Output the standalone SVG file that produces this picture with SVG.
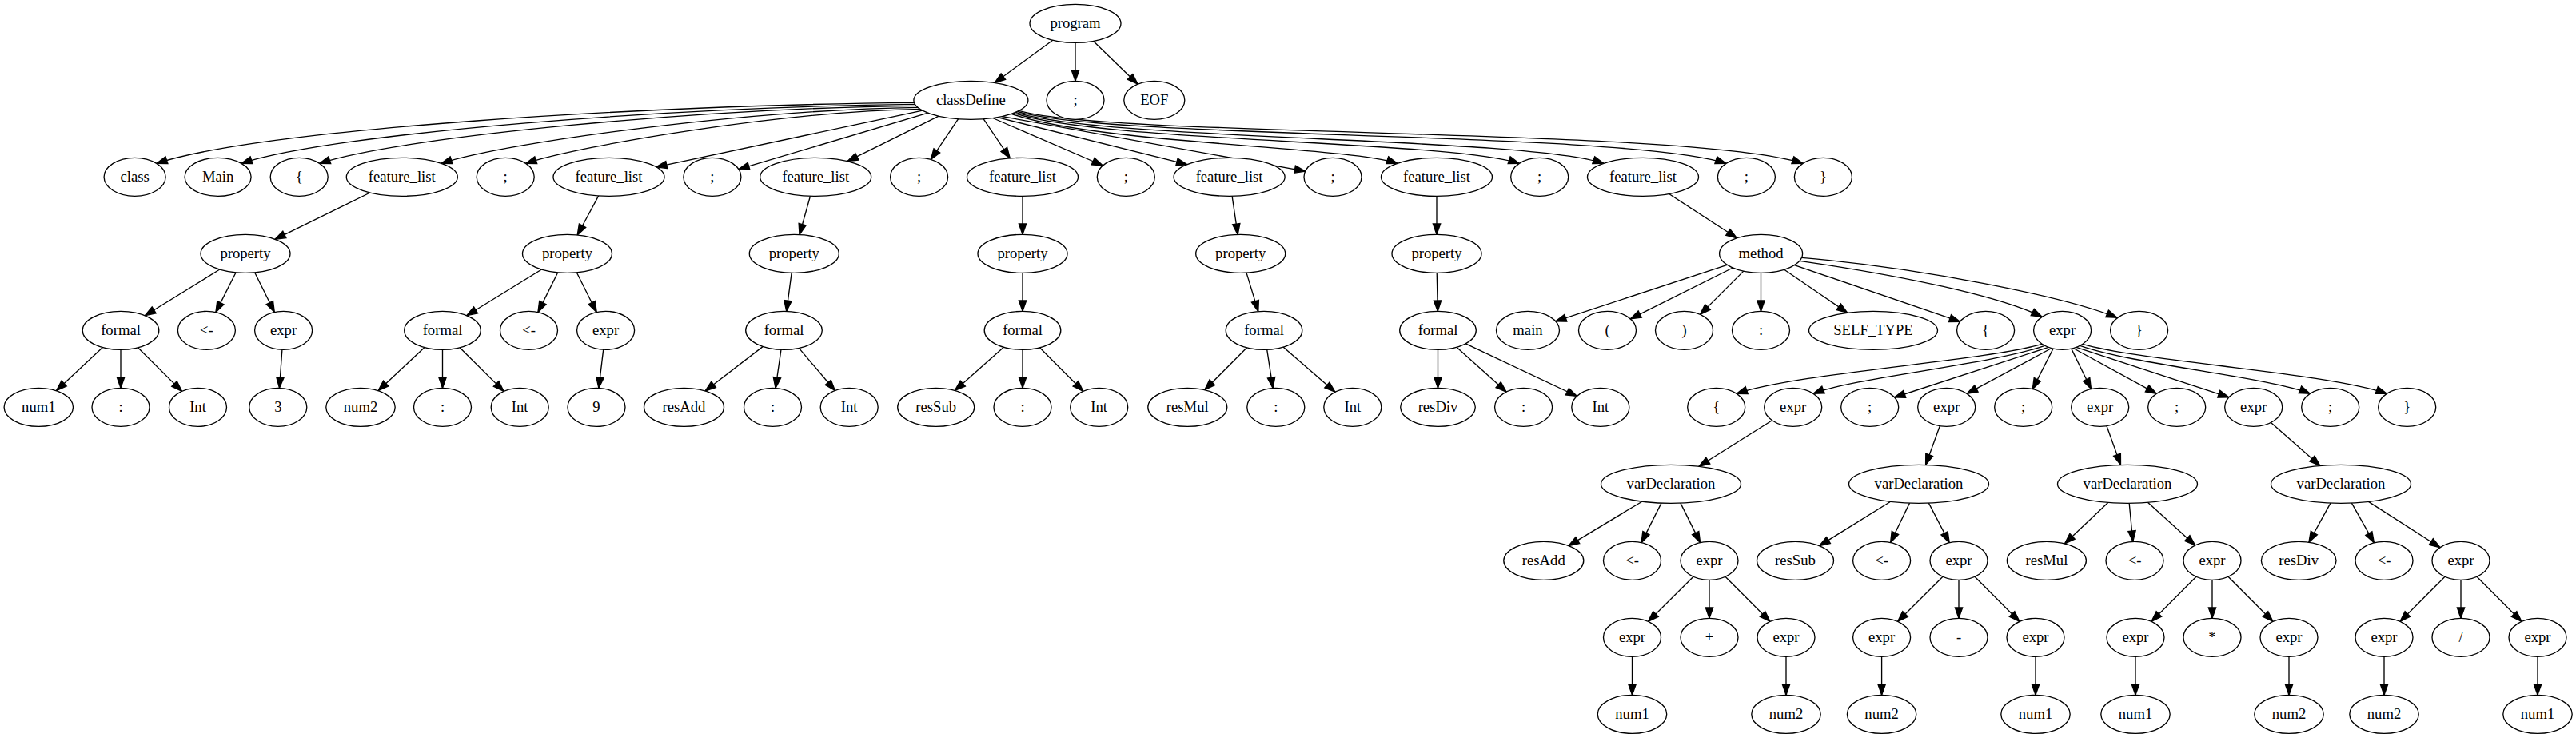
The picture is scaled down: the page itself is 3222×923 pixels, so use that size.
<svg xmlns="http://www.w3.org/2000/svg" width="3222" height="923" viewBox="0 0 3222 923">
<style>
.node ellipse{fill:#fff;stroke:#000;stroke-width:1.33}
.node text{font-family:"Liberation Serif","Times New Roman",serif;font-size:18.67px;text-anchor:middle;fill:#000}
#edges path{fill:none;stroke:#000;stroke-width:1.33;marker-end:url(#arr)}
</style>
<defs>
<marker id="arr" markerUnits="userSpaceOnUse" markerWidth="16" markerHeight="12" refX="13.33" refY="4.67" orient="auto" overflow="visible">
<path d="M0,0 L13.33,4.67 L0,9.33 Z" fill="#000" stroke="#000" stroke-width="1.33"/>
</marker>
</defs>
<rect width="3222" height="923" fill="#fff"/>
<g id="edges">
<path d="M1316.7,50.2 L1244.1,103.5"/>
<path d="M1345,53.3 L1345,101.3"/>
<path d="M1367.7,51.4 L1423.1,105.2"/>
<path d="M1143.5,128.3 C811.8,131.3 331,160.4 195.8,204.3"/>
<path d="M1144.5,130.3 C849.6,133.3 422.1,165.3 301.9,204.3"/>
<path d="M1146,132.3 C884.8,135.3 506.1,169.7 399.6,204.3"/>
<path d="M1148.1,134.3 C939.4,137.3 637,176.7 551.9,204.3"/>
<path d="M1150.9,136.3 C978.2,139.3 728,181.4 657.6,204.3"/>
<path d="M1153.9,138.2 L820.7,208.8"/>
<path d="M1160.8,141.2 L923.8,211.6"/>
<path d="M1174.2,145.2 L1060,201.7"/>
<path d="M1198.6,148.7 L1164.4,199.4"/>
<path d="M1230.1,148.7 L1263.3,198"/>
<path d="M1241.6,147.5 L1379.4,207"/>
<path d="M1247.3,146.6 L1484.9,205.7"/>
<path d="M1253,145.5 L1632.7,214.1"/>
<path d="M1264.9,142.3 C1374.9,180 1680.8,182.5 1747.9,204.3"/>
<path d="M1267.7,141.3 C1377.7,178 1811.9,175.6 1900.3,204.3"/>
<path d="M1270.2,140.3 C1380.2,176 1902.7,170.8 2005.9,204.3"/>
<path d="M1272.5,139.3 C1382.5,174 2034.2,163.8 2159,204.3"/>
<path d="M1274.5,138.3 C1384.5,172 2116.6,159.4 2255,204.3"/>
<path d="M462.8,241 L343.9,299.3"/>
<path d="M748.7,244.9 L722.2,294"/>
<path d="M1013.5,245.2 L1000,293.5"/>
<path d="M1279,245.3 L1279,293.3"/>
<path d="M1541.1,245.2 L1548.2,293.4"/>
<path d="M1797,245.3 L1797,293.3"/>
<path d="M2087.6,242.5 L2172.5,297.8"/>
<path d="M274.9,337 L181.3,394.8"/>
<path d="M295.1,340.8 L269.9,390.6"/>
<path d="M318.6,340.8 L343.3,390.5"/>
<path d="M677.5,337 L583.7,394.8"/>
<path d="M697.8,340.8 L672.9,390.6"/>
<path d="M721.3,340.8 L746.2,390.5"/>
<path d="M990.1,341.3 L983.7,389.4"/>
<path d="M1279,341.3 L1279,389.3"/>
<path d="M1559,341.1 L1573.8,389.6"/>
<path d="M1797.2,341.3 L1798.3,389.3"/>
<path d="M2160.3,331.3 L1945.7,401.9"/>
<path d="M2167.3,335 L2039.3,398.9"/>
<path d="M2180.8,339.1 L2126.5,393.4"/>
<path d="M2202.5,341.3 L2202.5,389.3"/>
<path d="M2231.7,337.2 L2310.8,391.3"/>
<path d="M2244.4,331.6 L2451.6,402.4"/>
<path d="M2250.8,326.3 C2380,345 2500,370 2554.2,396.3"/>
<path d="M2253.5,322.3 C2400,335 2580,370 2648,397.3"/>
<path d="M128.4,434.5 L70.4,488.7"/>
<path d="M151,437.3 L151,485.3"/>
<path d="M172.5,434.8 L227.5,489.4"/>
<path d="M352.9,437.3 L349.5,485.3"/>
<path d="M531,434.5 L473,488.7"/>
<path d="M553.5,437.3 L553.5,485.3"/>
<path d="M575.1,434.8 L630.1,489.4"/>
<path d="M754.7,437.2 L748.9,485.4"/>
<path d="M954.3,433.4 L882,489"/>
<path d="M977,437.2 L970,485.4"/>
<path d="M999.3,435.4 L1044.4,488.5"/>
<path d="M1255.4,434.2 L1194.3,488.4"/>
<path d="M1279,437.3 L1279,485.3"/>
<path d="M1300.4,434.8 L1354.8,489.3"/>
<path d="M1559.6,434.8 L1506.8,487.7"/>
<path d="M1584.7,437.2 L1592.1,485.4"/>
<path d="M1605,434.1 L1669.9,490.3"/>
<path d="M1798.5,437.3 L1798.5,485.3"/>
<path d="M1821.9,434.3 L1884.1,490.1"/>
<path d="M1833.3,429.8 L1972.4,495.5"/>
<path d="M2554.2,430.3 C2480,452 2250,466 2172.1,492.3"/>
<path d="M2557.6,432.3 C2490,456 2320,472 2268.1,492.3"/>
<path d="M2562.2,434.3 L2369.6,497"/>
<path d="M2566,435.5 L2460.2,492.4"/>
<path d="M2568,436.1 L2542.3,486.6"/>
<path d="M2590.8,436.1 L2615.5,486.5"/>
<path d="M2593.2,435.5 L2697.3,492.3"/>
<path d="M2597,434.3 L2787.9,496.9"/>
<path d="M2601.6,432.3 C2669,456 2839,472 2889.3,492.3"/>
<path d="M2605,430.3 C2679,452 2909,466 2985.3,492.3"/>
<path d="M2216.5,525.8 L2125,583.3"/>
<path d="M2426.3,532.7 L2408.6,581.4"/>
<path d="M2635,532.7 L2652.5,581.4"/>
<path d="M2840.5,528.4 L2901.9,582.4"/>
<path d="M2053.8,627.2 L1961.9,682.6"/>
<path d="M2078,629.1 L2053,678.6"/>
<path d="M2101.9,629.1 L2126.6,678.6"/>
<path d="M2364.7,627.3 L2275.6,682.6"/>
<path d="M2388.5,629.1 L2364.6,678.5"/>
<path d="M2412.4,629.1 L2438.2,678.7"/>
<path d="M2636.7,628.4 L2582.4,680"/>
<path d="M2663.2,629.3 L2667.8,677.3"/>
<path d="M2686.4,628.3 L2745.7,682"/>
<path d="M2915,629.1 L2887.9,678.2"/>
<path d="M2941.4,629.1 L2969.4,678.8"/>
<path d="M2962.5,627.4 L3052,684.7"/>
<path d="M2118,721.3 L2061.5,777.4"/>
<path d="M2138,725.3 L2138,773.3"/>
<path d="M2158,721.3 L2214,777.4"/>
<path d="M2430,721.3 L2373.6,777.4"/>
<path d="M2450,725.3 L2450,773.3"/>
<path d="M2470,721.3 L2526,777.4"/>
<path d="M2747,721.3 L2691,777.4"/>
<path d="M2767,725.3 L2767,773.3"/>
<path d="M2787,721.3 L2843,777.4"/>
<path d="M3058,721.3 L3002,777.4"/>
<path d="M3078,725.3 L3078,773.3"/>
<path d="M3098,721.3 L3154,777.4"/>
<path d="M2041.5,821.3 L2041.5,869.3"/>
<path d="M2234,821.3 L2234,869.3"/>
<path d="M2353.6,821.3 L2353.6,869.3"/>
<path d="M2546,821.3 L2546,869.3"/>
<path d="M2671,821.3 L2671,869.3"/>
<path d="M2863,821.3 L2863,869.3"/>
<path d="M2982,821.3 L2982,869.3"/>
<path d="M3174,821.3 L3174,869.3"/>
</g>
<g id="n_program" class="node"><ellipse cx="1345" cy="29.33" rx="57" ry="24"/><text x="1345" y="35.3">program</text></g>
<g id="n_classDefine" class="node"><ellipse cx="1214.4" cy="125.33" rx="71.5" ry="24"/><text x="1214.4" y="131.3">classDefine</text></g>
<g id="n_semi0" class="node"><ellipse cx="1345" cy="125.33" rx="36" ry="24"/><text x="1345" y="131.3">;</text></g>
<g id="n_EOF" class="node"><ellipse cx="1443.8" cy="125.33" rx="38" ry="24"/><text x="1443.8" y="131.3">EOF</text></g>
<g id="n_class" class="node"><ellipse cx="168.6" cy="221.33" rx="38.5" ry="24"/><text x="168.6" y="227.3">class</text></g>
<g id="n_Main" class="node"><ellipse cx="272.6" cy="221.33" rx="41.5" ry="24"/><text x="272.6" y="227.3">Main</text></g>
<g id="n_lbrace0" class="node"><ellipse cx="374.2" cy="221.33" rx="36" ry="24"/><text x="374.2" y="227.3">{</text></g>
<g id="n_fl1" class="node"><ellipse cx="502.8" cy="221.33" rx="69.5" ry="24"/><text x="502.8" y="227.3">feature_list</text></g>
<g id="n_semi1" class="node"><ellipse cx="632.2" cy="221.33" rx="36" ry="24"/><text x="632.2" y="227.3">;</text></g>
<g id="n_fl2" class="node"><ellipse cx="761.5" cy="221.33" rx="69.5" ry="24"/><text x="761.5" y="227.3">feature_list</text></g>
<g id="n_semi2" class="node"><ellipse cx="890.9" cy="221.33" rx="36" ry="24"/><text x="890.9" y="227.3">;</text></g>
<g id="n_fl3" class="node"><ellipse cx="1020.2" cy="221.33" rx="69.5" ry="24"/><text x="1020.2" y="227.3">feature_list</text></g>
<g id="n_semi3" class="node"><ellipse cx="1149.6" cy="221.33" rx="36" ry="24"/><text x="1149.6" y="227.3">;</text></g>
<g id="n_fl4" class="node"><ellipse cx="1279" cy="221.33" rx="69.5" ry="24"/><text x="1279" y="227.3">feature_list</text></g>
<g id="n_semi4" class="node"><ellipse cx="1408.3" cy="221.33" rx="36" ry="24"/><text x="1408.3" y="227.3">;</text></g>
<g id="n_fl5" class="node"><ellipse cx="1537.6" cy="221.33" rx="69.5" ry="24"/><text x="1537.6" y="227.3">feature_list</text></g>
<g id="n_semi5" class="node"><ellipse cx="1667" cy="221.33" rx="36" ry="24"/><text x="1667" y="227.3">;</text></g>
<g id="n_fl6" class="node"><ellipse cx="1797" cy="221.33" rx="69.5" ry="24"/><text x="1797" y="227.3">feature_list</text></g>
<g id="n_semi6" class="node"><ellipse cx="1925.7" cy="221.33" rx="36" ry="24"/><text x="1925.7" y="227.3">;</text></g>
<g id="n_fl7" class="node"><ellipse cx="2055" cy="221.33" rx="69.5" ry="24"/><text x="2055" y="227.3">feature_list</text></g>
<g id="n_semi7" class="node"><ellipse cx="2184.4" cy="221.33" rx="36" ry="24"/><text x="2184.4" y="227.3">;</text></g>
<g id="n_rbrace0" class="node"><ellipse cx="2280.4" cy="221.33" rx="36" ry="24"/><text x="2280.4" y="227.3">}</text></g>
<g id="n_prop1" class="node"><ellipse cx="307" cy="317.33" rx="56" ry="24"/><text x="307" y="323.3">property</text></g>
<g id="n_prop2" class="node"><ellipse cx="709.5" cy="317.33" rx="56" ry="24"/><text x="709.5" y="323.3">property</text></g>
<g id="n_prop3" class="node"><ellipse cx="993.3" cy="317.33" rx="56" ry="24"/><text x="993.3" y="323.3">property</text></g>
<g id="n_prop4" class="node"><ellipse cx="1279" cy="317.33" rx="56" ry="24"/><text x="1279" y="323.3">property</text></g>
<g id="n_prop5" class="node"><ellipse cx="1551.7" cy="317.33" rx="56" ry="24"/><text x="1551.7" y="323.3">property</text></g>
<g id="n_prop6" class="node"><ellipse cx="1797" cy="317.33" rx="56" ry="24"/><text x="1797" y="323.3">property</text></g>
<g id="n_method" class="node"><ellipse cx="2202.6" cy="317.33" rx="52" ry="24"/><text x="2202.6" y="323.3">method</text></g>
<g id="n_formal1" class="node"><ellipse cx="151" cy="413.33" rx="47.8" ry="24"/><text x="151" y="419.3">formal</text></g>
<g id="n_assign1" class="node"><ellipse cx="258.4" cy="413.33" rx="36" ry="24"/><text x="258.4" y="419.3">&lt;-</text></g>
<g id="n_expr1" class="node"><ellipse cx="354.6" cy="413.33" rx="36" ry="24"/><text x="354.6" y="419.3">expr</text></g>
<g id="n_formal2" class="node"><ellipse cx="553.5" cy="413.33" rx="47.8" ry="24"/><text x="553.5" y="419.3">formal</text></g>
<g id="n_assign2" class="node"><ellipse cx="661.5" cy="413.33" rx="36" ry="24"/><text x="661.5" y="419.3">&lt;-</text></g>
<g id="n_expr2" class="node"><ellipse cx="757.6" cy="413.33" rx="36" ry="24"/><text x="757.6" y="419.3">expr</text></g>
<g id="n_formal3" class="node"><ellipse cx="980.5" cy="413.33" rx="47.8" ry="24"/><text x="980.5" y="419.3">formal</text></g>
<g id="n_formal4" class="node"><ellipse cx="1279" cy="413.33" rx="47.8" ry="24"/><text x="1279" y="419.3">formal</text></g>
<g id="n_formal5" class="node"><ellipse cx="1581" cy="413.33" rx="47.8" ry="24"/><text x="1581" y="419.3">formal</text></g>
<g id="n_formal6" class="node"><ellipse cx="1798.5" cy="413.33" rx="47.8" ry="24"/><text x="1798.5" y="419.3">formal</text></g>
<g id="n_main" class="node"><ellipse cx="1911" cy="413.33" rx="39.5" ry="24"/><text x="1911" y="419.3">main</text></g>
<g id="n_lparen" class="node"><ellipse cx="2010.5" cy="413.33" rx="36" ry="24"/><text x="2010.5" y="419.3">(</text></g>
<g id="n_rparen" class="node"><ellipse cx="2106.5" cy="413.33" rx="36" ry="24"/><text x="2106.5" y="419.3">)</text></g>
<g id="n_colonm" class="node"><ellipse cx="2202.5" cy="413.33" rx="36" ry="24"/><text x="2202.5" y="419.3">:</text></g>
<g id="n_selftype" class="node"><ellipse cx="2343" cy="413.33" rx="80.5" ry="24"/><text x="2343" y="419.3">SELF_TYPE</text></g>
<g id="n_lbracem" class="node"><ellipse cx="2483.6" cy="413.33" rx="36" ry="24"/><text x="2483.6" y="419.3">{</text></g>
<g id="n_exprm" class="node"><ellipse cx="2579.6" cy="413.33" rx="36" ry="24"/><text x="2579.6" y="419.3">expr</text></g>
<g id="n_rbracem" class="node"><ellipse cx="2675.6" cy="413.33" rx="36" ry="24"/><text x="2675.6" y="419.3">}</text></g>
<g id="n_num1a" class="node"><ellipse cx="48.3" cy="509.33" rx="43.2" ry="24"/><text x="48.3" y="515.3">num1</text></g>
<g id="n_colon1" class="node"><ellipse cx="151" cy="509.33" rx="36" ry="24"/><text x="151" y="515.3">:</text></g>
<g id="n_int1" class="node"><ellipse cx="247.5" cy="509.33" rx="36" ry="24"/><text x="247.5" y="515.3">Int</text></g>
<g id="n_three" class="node"><ellipse cx="347.8" cy="509.33" rx="36" ry="24"/><text x="347.8" y="515.3">3</text></g>
<g id="n_num2a" class="node"><ellipse cx="451" cy="509.33" rx="43.2" ry="24"/><text x="451" y="515.3">num2</text></g>
<g id="n_colon2" class="node"><ellipse cx="553.5" cy="509.33" rx="36" ry="24"/><text x="553.5" y="515.3">:</text></g>
<g id="n_int2" class="node"><ellipse cx="650.2" cy="509.33" rx="36" ry="24"/><text x="650.2" y="515.3">Int</text></g>
<g id="n_nine" class="node"><ellipse cx="746" cy="509.33" rx="36" ry="24"/><text x="746" y="515.3">9</text></g>
<g id="n_resAdd1" class="node"><ellipse cx="855.5" cy="509.33" rx="50" ry="24"/><text x="855.5" y="515.3">resAdd</text></g>
<g id="n_colon3" class="node"><ellipse cx="966.5" cy="509.33" rx="36" ry="24"/><text x="966.5" y="515.3">:</text></g>
<g id="n_int3" class="node"><ellipse cx="1062.2" cy="509.33" rx="36" ry="24"/><text x="1062.2" y="515.3">Int</text></g>
<g id="n_resSub1" class="node"><ellipse cx="1170.7" cy="509.33" rx="48" ry="24"/><text x="1170.7" y="515.3">resSub</text></g>
<g id="n_colon4" class="node"><ellipse cx="1279" cy="509.33" rx="36" ry="24"/><text x="1279" y="515.3">:</text></g>
<g id="n_int4" class="node"><ellipse cx="1374.7" cy="509.33" rx="36" ry="24"/><text x="1374.7" y="515.3">Int</text></g>
<g id="n_resMul1" class="node"><ellipse cx="1485.3" cy="509.33" rx="49.5" ry="24"/><text x="1485.3" y="515.3">resMul</text></g>
<g id="n_colon5" class="node"><ellipse cx="1595.8" cy="509.33" rx="36" ry="24"/><text x="1595.8" y="515.3">:</text></g>
<g id="n_int5" class="node"><ellipse cx="1691.8" cy="509.33" rx="36" ry="24"/><text x="1691.8" y="515.3">Int</text></g>
<g id="n_resDiv1" class="node"><ellipse cx="1798.5" cy="509.33" rx="46.8" ry="24"/><text x="1798.5" y="515.3">resDiv</text></g>
<g id="n_colon6" class="node"><ellipse cx="1905.6" cy="509.33" rx="36" ry="24"/><text x="1905.6" y="515.3">:</text></g>
<g id="n_int6" class="node"><ellipse cx="2001.8" cy="509.33" rx="36" ry="24"/><text x="2001.8" y="515.3">Int</text></g>
<g id="n_lbraceb" class="node"><ellipse cx="2146.7" cy="509.33" rx="36" ry="24"/><text x="2146.7" y="515.3">{</text></g>
<g id="n_exprb1" class="node"><ellipse cx="2242.7" cy="509.33" rx="36" ry="24"/><text x="2242.7" y="515.3">expr</text></g>
<g id="n_semib1" class="node"><ellipse cx="2338.7" cy="509.33" rx="36" ry="24"/><text x="2338.7" y="515.3">;</text></g>
<g id="n_exprb2" class="node"><ellipse cx="2434.7" cy="509.33" rx="36" ry="24"/><text x="2434.7" y="515.3">expr</text></g>
<g id="n_semib2" class="node"><ellipse cx="2530.7" cy="509.33" rx="36" ry="24"/><text x="2530.7" y="515.3">;</text></g>
<g id="n_exprb3" class="node"><ellipse cx="2626.7" cy="509.33" rx="36" ry="24"/><text x="2626.7" y="515.3">expr</text></g>
<g id="n_semib3" class="node"><ellipse cx="2722.7" cy="509.33" rx="36" ry="24"/><text x="2722.7" y="515.3">;</text></g>
<g id="n_exprb4" class="node"><ellipse cx="2818.7" cy="509.33" rx="36" ry="24"/><text x="2818.7" y="515.3">expr</text></g>
<g id="n_semib4" class="node"><ellipse cx="2914.7" cy="509.33" rx="36" ry="24"/><text x="2914.7" y="515.3">;</text></g>
<g id="n_rbraceb" class="node"><ellipse cx="3010.7" cy="509.33" rx="36" ry="24"/><text x="3010.7" y="515.3">}</text></g>
<g id="n_vd1" class="node"><ellipse cx="2090" cy="605.33" rx="87.5" ry="24"/><text x="2090" y="611.3">varDeclaration</text></g>
<g id="n_vd2" class="node"><ellipse cx="2400" cy="605.33" rx="87.5" ry="24"/><text x="2400" y="611.3">varDeclaration</text></g>
<g id="n_vd3" class="node"><ellipse cx="2661" cy="605.33" rx="87.5" ry="24"/><text x="2661" y="611.3">varDeclaration</text></g>
<g id="n_vd4" class="node"><ellipse cx="2928" cy="605.33" rx="87.5" ry="24"/><text x="2928" y="611.3">varDeclaration</text></g>
<g id="n_resAdd2" class="node"><ellipse cx="1930.8" cy="701.33" rx="50" ry="24"/><text x="1930.8" y="707.3">resAdd</text></g>
<g id="n_assignv1" class="node"><ellipse cx="2041.5" cy="701.33" rx="36" ry="24"/><text x="2041.5" y="707.3">&lt;-</text></g>
<g id="n_exprv1" class="node"><ellipse cx="2138" cy="701.33" rx="36" ry="24"/><text x="2138" y="707.3">expr</text></g>
<g id="n_resSub2" class="node"><ellipse cx="2245.5" cy="701.33" rx="48" ry="24"/><text x="2245.5" y="707.3">resSub</text></g>
<g id="n_assignv2" class="node"><ellipse cx="2353.6" cy="701.33" rx="36" ry="24"/><text x="2353.6" y="707.3">&lt;-</text></g>
<g id="n_exprv2" class="node"><ellipse cx="2450" cy="701.33" rx="36" ry="24"/><text x="2450" y="707.3">expr</text></g>
<g id="n_resMul2" class="node"><ellipse cx="2559.9" cy="701.33" rx="49.5" ry="24"/><text x="2559.9" y="707.3">resMul</text></g>
<g id="n_assignv3" class="node"><ellipse cx="2670" cy="701.33" rx="36" ry="24"/><text x="2670" y="707.3">&lt;-</text></g>
<g id="n_exprv3" class="node"><ellipse cx="2767" cy="701.33" rx="36" ry="24"/><text x="2767" y="707.3">expr</text></g>
<g id="n_resDiv2" class="node"><ellipse cx="2875.2" cy="701.33" rx="46.8" ry="24"/><text x="2875.2" y="707.3">resDiv</text></g>
<g id="n_assignv4" class="node"><ellipse cx="2982" cy="701.33" rx="36" ry="24"/><text x="2982" y="707.3">&lt;-</text></g>
<g id="n_exprv4" class="node"><ellipse cx="3078" cy="701.33" rx="36" ry="24"/><text x="3078" y="707.3">expr</text></g>
<g id="n_e_add_l" class="node"><ellipse cx="2041.5" cy="797.33" rx="36" ry="24"/><text x="2041.5" y="803.3">expr</text></g>
<g id="n_plus" class="node"><ellipse cx="2138" cy="797.33" rx="36" ry="24"/><text x="2138" y="803.3">+</text></g>
<g id="n_e_add_r" class="node"><ellipse cx="2234" cy="797.33" rx="36" ry="24"/><text x="2234" y="803.3">expr</text></g>
<g id="n_e_sub_l" class="node"><ellipse cx="2353.6" cy="797.33" rx="36" ry="24"/><text x="2353.6" y="803.3">expr</text></g>
<g id="n_minus" class="node"><ellipse cx="2450" cy="797.33" rx="36" ry="24"/><text x="2450" y="803.3">-</text></g>
<g id="n_e_sub_r" class="node"><ellipse cx="2546" cy="797.33" rx="36" ry="24"/><text x="2546" y="803.3">expr</text></g>
<g id="n_e_mul_l" class="node"><ellipse cx="2671" cy="797.33" rx="36" ry="24"/><text x="2671" y="803.3">expr</text></g>
<g id="n_times" class="node"><ellipse cx="2767" cy="797.33" rx="36" ry="24"/><text x="2767" y="803.3">*</text></g>
<g id="n_e_mul_r" class="node"><ellipse cx="2863" cy="797.33" rx="36" ry="24"/><text x="2863" y="803.3">expr</text></g>
<g id="n_e_div_l" class="node"><ellipse cx="2982" cy="797.33" rx="36" ry="24"/><text x="2982" y="803.3">expr</text></g>
<g id="n_slash" class="node"><ellipse cx="3078" cy="797.33" rx="36" ry="24"/><text x="3078" y="803.3">/</text></g>
<g id="n_e_div_r" class="node"><ellipse cx="3174" cy="797.33" rx="36" ry="24"/><text x="3174" y="803.3">expr</text></g>
<g id="n_num1b" class="node"><ellipse cx="2041.5" cy="893.33" rx="43.2" ry="24"/><text x="2041.5" y="899.3">num1</text></g>
<g id="n_num2b" class="node"><ellipse cx="2234" cy="893.33" rx="43.2" ry="24"/><text x="2234" y="899.3">num2</text></g>
<g id="n_num2c" class="node"><ellipse cx="2353.6" cy="893.33" rx="43.2" ry="24"/><text x="2353.6" y="899.3">num2</text></g>
<g id="n_num1c" class="node"><ellipse cx="2546" cy="893.33" rx="43.2" ry="24"/><text x="2546" y="899.3">num1</text></g>
<g id="n_num1d" class="node"><ellipse cx="2671" cy="893.33" rx="43.2" ry="24"/><text x="2671" y="899.3">num1</text></g>
<g id="n_num2d" class="node"><ellipse cx="2863" cy="893.33" rx="43.2" ry="24"/><text x="2863" y="899.3">num2</text></g>
<g id="n_num2e" class="node"><ellipse cx="2982" cy="893.33" rx="43.2" ry="24"/><text x="2982" y="899.3">num2</text></g>
<g id="n_num1e" class="node"><ellipse cx="3174" cy="893.33" rx="43.2" ry="24"/><text x="3174" y="899.3">num1</text></g>
</svg>
